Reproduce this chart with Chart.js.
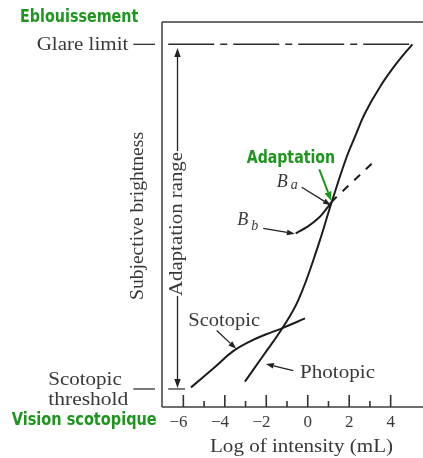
<!DOCTYPE html>
<html>
<head>
<meta charset="utf-8">
<script src="https://cdn.jsdelivr.net/npm/chart.js@4/dist/chart.umd.min.js"></script>
<style>
  html, body { margin: 0; padding: 0; background: #fff; }
  canvas { display: block; }
</style>
</head>
<body>
<canvas id="c" width="423" height="458" style="width:423px;height:458px"></canvas>
<script>
// Log of intensity (mL): tick positions and the labelled ones
const tickValues = [-6, -5, -4, -3, -2, -1, 0, 1, 2, 3, 4];
const labelledTicks = [-6, -4, -2, 0, 2, 4];
const tickLabels = ['\u22126', '\u22124', '\u22122', '0', '2', '4'];

// Photopic response (log intensity -> subjective brightness)
const photopicX = [-3.03, -2.1, -1.22, -0.45, 0.46, 1.16, 1.88, 2.28, 2.76, 3.49, 4.29, 5.05];
const photopicY = [6.6, 13.7, 20.5, 27.8, 41.2, 53.3, 65.0, 70.2, 76.3, 83.2, 89.3, 94.2];

// Scotopic response
const scotopicX = [-5.63, -4.56, -3.6, -2.8, -2.0, -1.22, -0.13];
const scotopicY = [5.1, 10.0, 14.5, 17.0, 18.9, 20.5, 23.0];

// Brightness curve B_b up to the adaptation level B_a
const bbX = [-0.58, -0.05, 0.51, 0.92, 1.16, 1.40];
const bbY = [45.1, 46.7, 49.0, 51.6, 53.3, 54.6];

// Extension beyond B_a
const baX = [1.40, 3.25];
const baY = [54.6, 64.0];

// Reference levels
const glareLevel = 94.2;
const thresholdLevel = 4.68;
const glareFrom = -6.73;
const adaptationX = -6.29;
const adaptationTop = 93.25;

const pts = (xs, ys) => xs.map((x, i) => ({ x, y: ys[i] }));

const INK = '#1c1c1c';
const TEXT = '#383838';
const GREEN = '#1e961e';
const SERIF = '"Liberation Serif", "DejaVu Serif", serif';
const GREENFONT = '"DejaVu Sans", sans-serif';

// Text drawn to a given length along its baseline
function fitText(ctx, text, x, y, width, font, color, rotate) {
  ctx.save();
  ctx.font = font;
  ctx.fillStyle = color;
  ctx.textAlign = 'left';
  ctx.textBaseline = 'alphabetic';
  const w = ctx.measureText(text).width;
  ctx.translate(x, y);
  if (rotate) ctx.rotate(rotate);
  ctx.scale(width / w, 1);
  ctx.fillText(text, 0, 0);
  ctx.restore();
}

function arrow(ctx, x1, y1, x2, y2, color, lw, head, half) {
  ctx.save();
  ctx.strokeStyle = color;
  ctx.fillStyle = color;
  ctx.lineWidth = lw;
  ctx.setLineDash([]);
  const a = Math.atan2(y2 - y1, x2 - x1);
  const bx = x2 - head * Math.cos(a), by = y2 - head * Math.sin(a);
  ctx.beginPath();
  ctx.moveTo(x1, y1);
  ctx.lineTo(bx, by);
  ctx.stroke();
  ctx.beginPath();
  ctx.moveTo(x2, y2);
  ctx.lineTo(bx + half * Math.sin(a), by - half * Math.cos(a));
  ctx.lineTo(bx - half * Math.sin(a), by + half * Math.cos(a));
  ctx.closePath();
  ctx.fill();
  ctx.restore();
}

function segment(ctx, x1, y1, x2, y2, color, lw) {
  ctx.save();
  ctx.strokeStyle = color;
  ctx.lineWidth = lw;
  ctx.setLineDash([]);
  ctx.beginPath();
  ctx.moveTo(x1, y1);
  ctx.lineTo(x2, y2);
  ctx.stroke();
  ctx.restore();
}

const decorations = {
  id: 'decorations',
  afterDraw(chart) {
    const ctx = chart.ctx;
    const xs = chart.scales.x, ys = chart.scales.y;
    const px = v => xs.getPixelForValue(v);
    const py = v => ys.getPixelForValue(v);
    const area = chart.chartArea;
    const L = area.left, T = area.top, R = area.right, Bt = area.bottom;

    // frame: top line, left axis, bottom axis
    segment(ctx, L, T, R, T, '#3c3c3c', 1.5);
    segment(ctx, L, T, L, Bt, '#3c3c3c', 1.5);
    segment(ctx, L, Bt, R, Bt, '#3c3c3c', 1.5);

    // inward ticks on the x axis, long on the labelled values
    ctx.save();
    ctx.fillStyle = '#333333';
    for (const v of tickValues) {
      const len = labelledTicks.indexOf(v) >= 0 ? 12 : 6;
      const x = px(v);
      ctx.fillRect(x - 0.8, Bt - len, 1.6, len);
    }
    ctx.restore();

    // tick labels: digit centred under the tick, minus sign hanging left
    ctx.save();
    ctx.font = '17px ' + SERIF;
    ctx.fillStyle = TEXT;
    ctx.textBaseline = 'alphabetic';
    ctx.textAlign = 'right';
    labelledTicks.forEach((v, i) => {
      const dw = ctx.measureText(String(Math.abs(v))).width;
      ctx.fillText(tickLabels[i], px(v) + dw / 2, 426.7);
    });
    ctx.restore();

    // axis titles
    fitText(ctx, 'Log of intensity (mL)', 210, 451.5, 183, '18px ' + SERIF, TEXT);
    fitText(ctx, 'Subjective brightness', 143.3, 300, 168, '18px ' + SERIF, TEXT, -Math.PI / 2);

    // level marks at the left of the axis
    segment(ctx, 133.3, py(glareLevel), 155, py(glareLevel), '#333', 1.3);
    segment(ctx, 133.3, py(thresholdLevel), 155, py(thresholdLevel), '#333', 1.3);
    segment(ctx, px(glareFrom), py(thresholdLevel), px(-5.92), py(thresholdLevel), '#333', 1.3);
    fitText(ctx, 'Glare limit', 36.7, 50, 91.6, '18px ' + SERIF, TEXT);
    fitText(ctx, 'Scotopic', 48.3, 385, 73.4, '18px ' + SERIF, TEXT);
    fitText(ctx, 'threshold', 48.3, 405, 80, '18px ' + SERIF, TEXT);

    // adaptation range: double arrow with its label on a white ground
    const ax = Math.round(px(adaptationX)) + 0.5;
    arrow(ctx, ax, 220, ax, py(adaptationTop), '#222', 1.3, 9, 3.2);
    arrow(ctx, ax, 220, ax, py(thresholdLevel) - 1, '#222', 1.3, 9, 3.2);
    ctx.save();
    ctx.fillStyle = '#fff';
    ctx.fillRect(ax - 9, 151, 14, 145);
    ctx.restore();
    fitText(ctx, 'Adaptation range', 181.8, 296, 144, '18px ' + SERIF, TEXT, -Math.PI / 2);

    // B_a and B_b labels
    ctx.save();
    ctx.fillStyle = TEXT;
    ctx.textBaseline = 'alphabetic';
    ctx.textAlign = 'left';
    ctx.font = 'italic 18px ' + SERIF;
    ctx.fillText('B', 276.7, 186.7);
    ctx.fillText('B', 237.2, 225);
    ctx.font = 'italic 14px ' + SERIF;
    ctx.fillText('a', 290.7, 189);
    ctx.fillText('b', 251.2, 230);
    ctx.restore();
    arrow(ctx, 301.7, 187.3, px(1.12), py(52.4), '#222', 1.3, 8, 2.8);
    arrow(ctx, 263.3, 228.3, px(-0.62), py(45.0), '#222', 1.3, 8, 2.8);

    // curve names
    fitText(ctx, 'Scotopic', 188.3, 326, 71.7, '18px ' + SERIF, TEXT);
    fitText(ctx, 'Photopic', 300, 378.3, 75, '18px ' + SERIF, TEXT);
    arrow(ctx, 216.7, 330.5, px(-3.45), py(15.1), '#222', 1.3, 8, 2.8);
    arrow(ctx, 293.3, 370.7, px(-2.02), py(11.2), '#222', 1.3, 8, 2.8);

    // French annotations
    fitText(ctx, 'Eblouissement', 20, 21.7, 118.3, 'bold 17px ' + GREENFONT, GREEN);
    fitText(ctx, 'Adaptation', 246.7, 162.7, 88.3, 'bold 17px ' + GREENFONT, GREEN);
    fitText(ctx, 'Vision scotopique', 11.7, 425, 145, 'bold 17px ' + GREENFONT, GREEN);
    arrow(ctx, 319.3, 169.3, px(1.13), py(53.6), GREEN, 2, 9, 3.6);
  }
};

new Chart(document.getElementById('c'), {
  type: 'line',
  data: {
    datasets: [
      {
        label: 'Photopic',
        data: pts(photopicX, photopicY),
        borderColor: INK, borderWidth: 2, pointRadius: 0,
        tension: 0.4
      },
      {
        label: 'Scotopic',
        data: pts(scotopicX, scotopicY),
        borderColor: INK, borderWidth: 2, pointRadius: 0,
        tension: 0.4
      },
      {
        label: 'B_b',
        data: pts(bbX, bbY),
        borderColor: INK, borderWidth: 2, pointRadius: 0,
        tension: 0.4
      },
      {
        label: 'B_a',
        data: pts(baX, baY),
        borderColor: INK, borderWidth: 2, pointRadius: 0,
        borderDash: [8, 8], borderDashOffset: 8
      },
      {
        label: 'Glare limit',
        data: [{ x: glareFrom, y: glareLevel }, { x: photopicX[photopicX.length - 1], y: glareLevel }],
        borderColor: '#2a2a2a', borderWidth: 1.5, pointRadius: 0,
        borderDash: [46, 6, 7, 6]
      }
    ]
  },
  options: {
    responsive: false,
    animation: false,
    layout: { padding: { left: 162, top: 22, right: 0, bottom: 51 } },
    scales: {
      x: { type: 'linear', min: -7.03, max: 5.56, display: false },
      y: { type: 'linear', min: 0, max: 100, display: false }
    },
    plugins: { legend: { display: false }, tooltip: { enabled: false } }
  },
  plugins: [decorations]
});
</script>
</body>
</html>
